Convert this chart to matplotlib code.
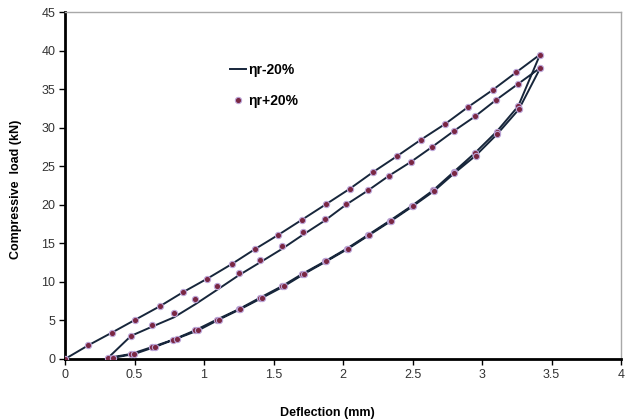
import matplotlib
matplotlib.use("Agg")
import matplotlib.pyplot as plt
import numpy as np

plt.rcParams['font.family'] = ['Liberation Sans', 'DejaVu Sans']

# deflection (mm) for each branch of the two load cycles
load1_x = [0, 0.168, 0.338, 0.507, 0.682, 0.852, 1.025, 1.198, 1.366, 1.534, 1.703,
           1.875, 2.048, 2.216, 2.387, 2.56, 2.735, 2.90, 3.076, 3.246, 3.417]
unload1_x = [3.26, 3.105, 2.95, 2.795, 2.649, 2.493, 2.337, 2.18, 2.025, 1.868,
             1.707, 1.56, 1.40, 1.249, 1.092, 0.937, 0.78, 0.627, 0.475, 0.31]
load2_x = [0.475, 0.627, 0.783, 0.937, 1.092, 1.249, 1.40, 1.558, 1.71, 1.868,
           2.02, 2.18, 2.33, 2.486, 2.642, 2.796, 2.95, 3.10, 3.26, 3.42]
unload2_x = [3.265, 3.11, 2.955, 2.80, 2.655, 2.50, 2.345, 2.19, 2.036, 1.878,
             1.72, 1.575, 1.416, 1.26, 1.107, 0.96, 0.804, 0.646, 0.499, 0.343]

# compressive load (kN), eta_r -20% (line)
minus_load1 = [0, 1.78, 3.43, 5.11, 6.84, 8.70, 10.44, 12.3, 14.25, 16.1, 18.05,
               20.05, 22.08, 24.25, 26.3, 28.45, 30.5, 32.7, 34.9, 37.2, 39.5]
minus_unload1 = [32.8, 29.5, 26.75, 24.25, 21.9, 19.85, 17.95, 16.1, 14.3, 12.65,
                 11.04, 9.44, 7.92, 6.45, 5.11, 3.73, 2.52, 1.56, 0.65, 0.15]
minus_load2 = [3.0, 4.2, 5.4, 7.1, 8.95, 10.85, 12.5, 14.25, 16.1, 17.95,
               20.0, 21.87, 23.77, 25.55, 27.53, 29.57, 31.48, 33.6, 35.7, 37.8]
minus_unload2 = [32.4, 29.2, 26.4, 24.1, 21.8, 19.8, 17.9, 16.1, 14.3, 12.65,
                 11.04, 9.44, 7.92, 6.45, 5.11, 3.73, 2.65, 1.56, 0.65, 0.15]

# compressive load (kN), eta_r +20% (dots)
plus_load1 = minus_load1
plus_unload1 = minus_unload1
plus_load2 = [3.04, 4.38, 6.02, 7.75, 9.44, 11.17, 12.9, 14.64, 16.5, 18.14,
              20.05, 21.87, 23.77, 25.55, 27.53, 29.57, 31.48, 33.6, 35.7, 37.8]
plus_unload2 = minus_unload2

xs = load1_x + unload1_x + load2_x + unload2_x
y_minus = minus_load1 + minus_unload1 + minus_load2 + minus_unload2
y_plus = plus_load1 + plus_unload1 + plus_load2 + plus_unload2

fig = plt.figure(figsize=(6.28, 4.19), dpi=100)
ax = fig.add_axes([0.1035, 0.1432, 0.8855, 0.8278])

ax.plot(xs, y_minus, '-', color='#17263b', lw=1.4, label='ηr-20%', zorder=2)
ax.plot(xs, y_plus, 'o', ls='none', ms=4.5, mfc='#7a2743', mec='#bca6d8',
        mew=0.8, label='ηr+20%', zorder=3)

ax.set_xlim(0, 4)
ax.set_ylim(0, 45)
ax.set_xticks(np.arange(0, 4.01, 0.5))
ax.set_xticklabels(['0', '0.5', '1', '1.5', '2', '2.5', '3', '3.5', '4'])
ax.set_yticks(np.arange(0, 46, 5))

for side in ['left', 'bottom']:
    ax.spines[side].set_linewidth(2)
    ax.spines[side].set_color('black')
for side in ['top', 'right']:
    ax.spines[side].set_linewidth(1)
    ax.spines[side].set_color('#a8a8a8')

ax.tick_params(direction='out', length=4, width=1, labelsize=9,
               labelcolor='#333333', color='black', pad=3)

ax.set_xlabel('Deflection (mm)', fontsize=9, fontweight='bold')
ax.xaxis.set_label_coords(0.472, -0.138)
ax.set_ylabel('Compressive  load (kN)', fontsize=9, fontweight='bold')
ax.yaxis.set_label_coords(-0.077, 0.49)

leg = ax.legend(loc='upper left', bbox_to_anchor=(0.275, 0.89), frameon=False,
                handlelength=1.1, handletextpad=0.2, labelspacing=1.25,
                prop={'weight': 'bold', 'size': 10})

fig.savefig('out.png', dpi=100)
